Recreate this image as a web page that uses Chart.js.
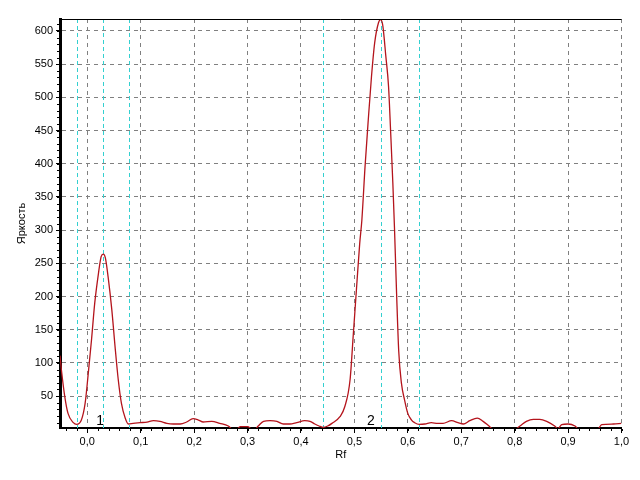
<!DOCTYPE html>
<html>
<head>
<meta charset="utf-8">
<script src="https://cdn.jsdelivr.net/npm/chart.js@4"></script>
<style>
  html, body { margin: 0; padding: 0; background: #ffffff; }
  #wrap { width: 640px; height: 480px; }
</style>
</head>
<body>
<div id="wrap"><canvas id="c" width="640" height="480"></canvas></div>
<script>
// Rf positions and brightness values
const rf = [
  -0.051, -0.048, -0.042, -0.036, -0.026, -0.020, -0.011, -0.004, 0.002, 0.008,
  0.014, 0.021, 0.026, 0.030, 0.034, 0.039, 0.046, 0.052, 0.058, 0.064,
  0.071, 0.077, 0.086, 0.099, 0.112, 0.124, 0.136, 0.149, 0.161, 0.174,
  0.186, 0.198, 0.208, 0.217, 0.233, 0.248, 0.264, 0.272, 0.280, 0.286,
  0.301, 0.308, 0.314, 0.320, 0.330, 0.342, 0.355, 0.367, 0.379, 0.392,
  0.407, 0.417, 0.426, 0.434, 0.442, 0.450, 0.458, 0.473, 0.482, 0.492,
  0.498, 0.504, 0.510, 0.514, 0.520, 0.526, 0.532, 0.538, 0.545, 0.549, 0.553,
  0.559, 0.564, 0.568, 0.572, 0.575, 0.579, 0.583, 0.588, 0.594, 0.600,
  0.607, 0.613, 0.621, 0.632, 0.644, 0.656, 0.666, 0.682, 0.694, 0.704,
  0.716, 0.730, 0.741, 0.752, 0.760, 0.800, 0.810, 0.822, 0.835, 0.847,
  0.860, 0.875, 0.881, 0.888, 0.900, 0.913, 0.920, 0.955, 0.963, 0.985,
  1.000
];
const brightness = [
  111, 87, 49, 24, 10, 7.5, 14, 39, 85, 135,
  190, 235, 260, 264, 258, 230, 180, 125, 75, 39,
  17, 8, 9, 10, 11, 13, 12, 9, 8, 8,
  11, 16, 14, 11, 12, 9, 5, 0, 0, 4,
  4, 0, 0, 5, 12, 13, 12, 8, 8, 10,
  13, 12, 8, 5, 3, 5, 9, 19, 34, 75,
  143, 212, 280, 315, 396, 466, 531, 582, 612, 617, 609,
  561, 516, 446, 371, 305, 205, 118, 70, 44, 24,
  14, 10, 7.5, 8, 10, 9, 9, 13, 10, 8,
  13, 17, 12, 5, 0, 0, 5, 12, 15, 15,
  12, 5, 1, 7, 8, 5, 0, 0, 7, 8,
  9
];
// Peak boundaries: start, maximum, end (Rf)
const peakStart = [-0.020, 0.442];
const peakMax   = [0.030, 0.549];
const peakEnd   = [0.078, 0.621];
const peakNames = ['1', '2'];
const peakLabelRf = [0.024, 0.531];
// Axis ranges / ticks
const xMin = -0.051, xMax = 1.0, xStep = 0.1, xMinorStep = 0.02;
const yMin = 2, yMax = 618, yStep = 50, yMinorStep = 10;
const xTitle = 'Rf';
const yTitle = 'Яркость';

const points = rf.map((x, i) => ({ x: x, y: brightness[i] }));
const FONT = '"Liberation Sans", Arial, sans-serif';

const decorPlugin = {
  id: 'decor',
  beforeDatasetsDraw(chart) {
    const { ctx, chartArea: a, scales: { x } } = chart;
    ctx.save();
    ctx.beginPath();
    ctx.rect(a.left, a.top, a.right - a.left, a.bottom - a.top);
    ctx.clip();
    ctx.strokeStyle = '#33d0d0';
    ctx.lineWidth = 1;
    ctx.setLineDash([4, 3]);
    const lines = [].concat(peakStart, peakMax, peakEnd);
    lines.forEach(v => {
      const px = Math.round(x.getPixelForValue(v)) + 0.5;
      ctx.beginPath();
      ctx.moveTo(px, a.top);
      ctx.lineTo(px, a.bottom);
      ctx.stroke();
    });
    ctx.restore();
  },
  afterDraw(chart) {
    const { ctx, chartArea: a, scales: { x, y } } = chart;
    ctx.save();
    // top border
    ctx.strokeStyle = '#000';
    ctx.lineWidth = 1;
    ctx.beginPath();
    ctx.moveTo(a.left, a.top + 0.5);
    ctx.lineTo(a.right, a.top + 0.5);
    ctx.stroke();
    // minor ticks
    ctx.beginPath();
    for (let v = yMinorStep; v < yMax; v += yMinorStep) {
      if (v < yMin) continue;
      const py = Math.round(y.getPixelForValue(v)) + 0.5;
      ctx.moveTo(a.left - 3, py);
      ctx.lineTo(a.left - 1, py);
    }
    for (let k = Math.ceil(xMin / xMinorStep); k * xMinorStep <= xMax + 1e-9; k++) {
      const px = Math.round(x.getPixelForValue(k * xMinorStep)) + 0.5;
      ctx.moveTo(px, a.bottom + 1);
      ctx.lineTo(px, a.bottom + 3);
    }
    ctx.stroke();
    // peak labels
    ctx.fillStyle = '#000';
    ctx.font = '14px ' + FONT;
    ctx.textAlign = 'center';
    ctx.textBaseline = 'alphabetic';
    peakNames.forEach((n, i) => {
      ctx.fillText(n, x.getPixelForValue(peakLabelRf[i]), a.bottom - 3);
    });
    ctx.restore();
  }
};

new Chart(document.getElementById('c'), {
  type: 'line',
  data: {
    datasets: [{
      data: points,
      borderColor: '#b4141c',
      borderWidth: 1.3,
      pointRadius: 0,
      fill: false,
      cubicInterpolationMode: 'monotone'
    }]
  },
  options: {
    responsive: false,
    animation: false,
    events: [],
    layout: { padding: { top: 19, right: 18.5, left: 0, bottom: 0 } },
    plugins: { legend: { display: false }, tooltip: { enabled: false } },
    scales: {
      x: {
        type: 'linear',
        min: xMin, max: xMax,
        afterFit(s) { s.height = 52; },
        ticks: {
          stepSize: xStep,
          includeBounds: false,
          color: '#000',
          padding: 2,
          maxRotation: 0,
          font: { family: FONT, size: 11 },
          callback: v => (Math.round(v * 10) / 10).toFixed(1).replace('.', ',')
        },
        grid: { color: '#808080', lineWidth: 1, tickLength: 5, tickColor: '#000', tickBorderDash: [] },
        border: { display: true, color: '#000', width: 2, dash: [4, 4] },
        title: { display: true, text: xTitle, color: '#000', font: { family: FONT, size: 11 }, padding: { top: 0, bottom: 18 } }
      },
      y: {
        type: 'linear',
        min: yMin, max: yMax,
        afterFit(s) { s.width = 60; },
        ticks: {
          stepSize: yStep,
          includeBounds: false,
          color: '#000',
          padding: 3,
          font: { family: FONT, size: 11 }
        },
        grid: { color: '#808080', lineWidth: 1, tickLength: 4, tickColor: '#000', tickBorderDash: [] },
        border: { display: true, color: '#000', width: 3, dash: [4, 4] },
        title: { display: true, text: yTitle, color: '#000', font: { family: FONT, size: 11 }, padding: { top: 15, bottom: 0 } }
      }
    }
  },
  plugins: [decorPlugin]
});
</script>
</body>
</html>
